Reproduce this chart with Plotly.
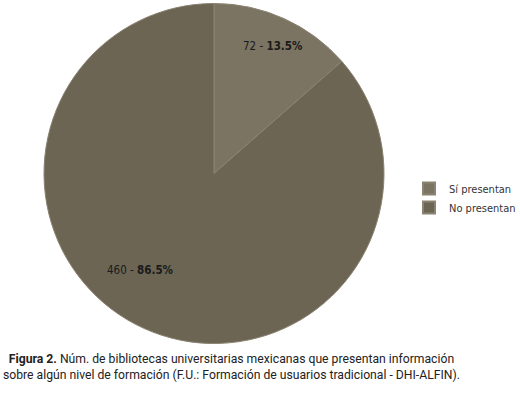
import plotly.graph_objects as go

categories = ["Sí presentan", "No presentan"]
values = [72, 460]
colors = ["#7b7462", "#6c6553"]

W, H = 520, 395
total = sum(values)
label_texts = [f"{v} - <b>{v / total:.1%}</b>" for v in values]
label_pos = [(273, 46), (140, 270)]  # pixel centres of the in-slice labels

fig = go.Figure()
fig.add_trace(go.Pie(
    labels=categories,
    values=values,
    sort=False,
    direction="clockwise",
    rotation=0,
    marker=dict(colors=colors, line=dict(color="#8a8372", width=1)),
    textinfo="none",
    hoverinfo="label+value+percent",
    domain=dict(x=[44 / W, 384 / W], y=[(H - 344) / H, (H - 3) / H]),
))

annotations = [
    dict(
        text=t, x=px / W, y=(H - py) / H, xref="paper", yref="paper",
        xanchor="center", yanchor="middle", showarrow=False,
        font=dict(family="DejaVu Sans Condensed, DejaVu Sans", size=11.5, color="#1a1a1a"),
    )
    for t, (px, py) in zip(label_texts, label_pos)
]
annotations.append(dict(
    text="<b>Figura 2.</b> Núm. de bibliotecas universitarias mexicanas que presentan información<br>sobre algún nivel de formación (F.U.: Formación de usuarios tradicional - DHI-ALFIN).",
    x=231 / W, y=(H - 350) / H, xref="paper", yref="paper",
    xanchor="center", yanchor="top", align="center", showarrow=False,
    font=dict(family="Roboto, sans-serif", size=12.2, color="#222222"),
))

fig.update_layout(
    width=W, height=H,
    margin=dict(l=0, r=0, t=0, b=0, autoexpand=False),
    paper_bgcolor="white",
    plot_bgcolor="white",
    showlegend=True,
    legend=dict(
        x=409 / W, y=(H - 198) / H, xanchor="left", yanchor="middle",
        font=dict(family="DejaVu Sans Condensed, DejaVu Sans", size=11, color="#333333"),
        itemsizing="constant",
        itemwidth=30,
    ),
    annotations=annotations,
)

fig.write_html(
    "out.html",
    config={"displayModeBar": False},
    post_script="document.body.style.margin='0';document.body.style.overflow='hidden';",
)
